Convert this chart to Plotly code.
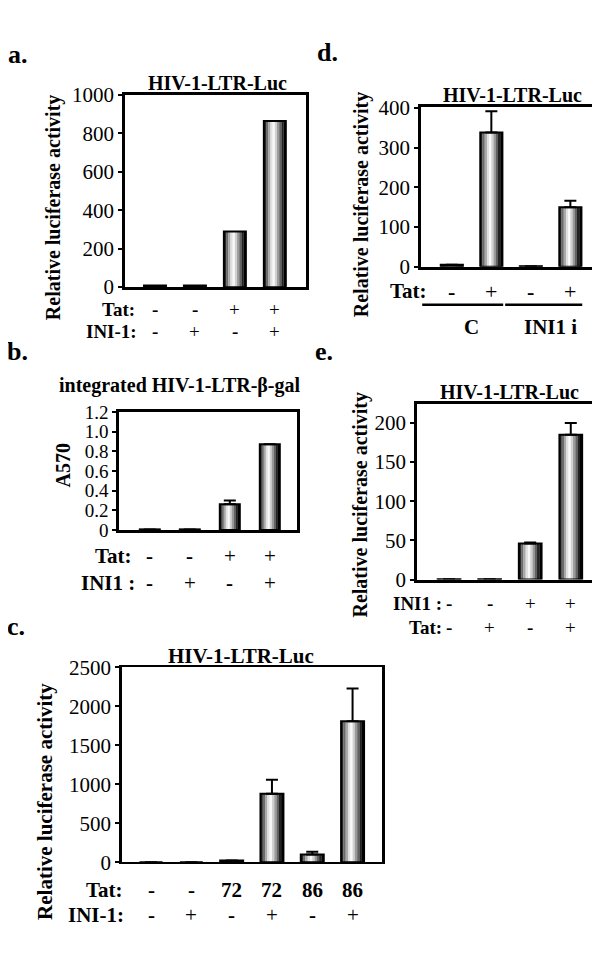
import plotly.graph_objects as go

W, H = 600, 957
FONT = "Liberation Serif"

# ---------------- data ----------------
a_vals = [8, 8, 290, 865]
a_tat = ["-", "-", "+", "+"]
a_ini = ["-", "+", "-", "+"]

b_vals = [0.005, 0.005, 0.26, 0.87]
b_err = [0, 0, 0.04, 0]
b_tat = ["-", "-", "+", "+"]
b_ini = ["-", "+", "-", "+"]
b_ticks = [0, 0.2, 0.4, 0.6, 0.8, 1.0, 1.2]
b_ticktext = ["0", "0.2", "0.4", "0.6", "0.8", "1.0", "1.2"]

c_vals = [0, 0, 25, 880, 100, 1810]
c_err = [0, 0, 0, 180, 35, 418]
c_tat = ["-", "-", "72", "72", "86", "86"]
c_ini = ["-", "+", "-", "+", "-", "+"]

d_vals = [5, 338, 1, 150]
d_err = [0, 54, 0, 16]
d_tat = ["-", "+", "-", "+"]
d_groups = ["C", "INI1 i"]

e_vals = [0.5, 0.5, 46, 185]
e_err = [0, 0, 1.5, 15]
e_ini = ["-", "-", "+", "+"]
e_tat = ["-", "+", "-", "+"]

STRIPES = ["#2a2a2a", "#6a6a6a", "#a8a8a8", "#e0e0e0", "#f8f8f8",
           "#d0d0d0", "#9a9a9a", "#626262", "#222222", "#000000"]


def px(x):
    return x / W


def py(y):
    return 1 - y / H


fig = go.Figure()

panels = [
    ("", a_vals, None, (117, 298), (77, 274), (-0.75, 3.78), (0, 1000), 0.55),
    ("2", b_vals, b_err, (111, 289), (402, 523), (-0.77, 3.68), (0, 1.2), 0.5),
    ("3", c_vals, c_err, (114, 374), (664, 864), (-0.72, 5.73), (0, 2500), 0.57),
    ("4", d_vals, d_err, (413, 592), (89, 253), (-0.78, 3.75), (0, 403), 0.56),
    ("5", e_vals, e_err, (409, 592), (394, 574), (-0.79, 3.72), (0, 224), 0.56),
]

layout_axes = {}
for name, vals, errs, xd, yd, xr, yr, bw in panels:
    n = len(vals)
    xs = list(range(n))
    N = len(STRIPES)
    for k, col in enumerate(STRIPES):
        fig.add_trace(go.Bar(
            x=xs, y=vals, width=bw / N * 1.05, offset=-bw / 2 + k * bw / N,
            marker=dict(color=col, line=dict(width=0)),
            xaxis="x" + name, yaxis="y" + name,
            showlegend=False, hoverinfo="skip"))
    kw = {}
    if errs is not None:
        kw["error_y"] = dict(type="data", array=errs, arrayminus=[0] * n,
                             symmetric=False, color="black", thickness=2, width=6)
    fig.add_trace(go.Bar(
        x=xs, y=vals, width=bw, offset=-bw / 2,
        marker=dict(color="rgba(0,0,0,0)", line=dict(color="black", width=2)),
        xaxis="x" + name, yaxis="y" + name, showlegend=False, hoverinfo="skip", **kw))

    xa = dict(domain=[px(xd[0]), px(xd[1])], range=list(xr), showgrid=False,
              zeroline=False, showticklabels=False, ticks="", showline=True,
              linecolor="black", linewidth=2.5, mirror=True, anchor="y" + name,
              fixedrange=True)
    ya = dict(domain=[py(yd[1]), py(yd[0])], range=list(yr), showgrid=False,
              zeroline=False, ticks="outside", ticklen=4, tickwidth=2,
              tickcolor="black", showline=True, linecolor="black", linewidth=2.5,
              mirror=True, anchor="x" + name,
              tickfont=dict(family=FONT, size=21, color="black"), fixedrange=True)
    layout_axes["xaxis" + name] = xa
    layout_axes["yaxis" + name] = ya

layout_axes["yaxis"].update(tickvals=[0, 200, 400, 600, 800, 1000], tickfont=dict(family=FONT, size=21, color="black"))
layout_axes["yaxis2"].update(tickvals=b_ticks, ticktext=b_ticktext, tickfont=dict(family=FONT, size=19, color="black"))
layout_axes["yaxis3"].update(tickvals=[0, 500, 1000, 1500, 2000, 2500])
layout_axes["yaxis4"].update(tickvals=[0, 100, 200, 300, 400])
layout_axes["yaxis5"].update(tickvals=[0, 50, 100, 150, 200])
layout_axes["xaxis3"].update(linewidth=2)

ann = []


def text(x, y, t, size=22, bold=True, xanchor="center", angle=0):
    ann.append(dict(x=px(x), y=py(y), xref="paper", yref="paper", text=t,
                    showarrow=False, xanchor=xanchor, yanchor="middle", textangle=angle,
                    font=dict(family=FONT, size=size, color="black",
                              weight="bold" if bold else "normal")))


def row(axis, labels, y, size):
    for i, t in enumerate(labels):
        ann.append(dict(x=i, y=py(y), xref=axis, yref="paper", text=t,
                        showarrow=False, xanchor="center", yanchor="middle",
                        font=dict(family=FONT, size=size,
                                  color="black",
                                  weight="normal" if t == "+" else "bold")))


# panel letters
for lab, x, y in [("a.", -2, 35), ("b.", -3, 340), ("c.", -3, 622), ("d.", 307, 33), ("e.", 305, 340)]:
    text(x, y, lab, size=26, xanchor="left")

# titles
text(209, 65, "HIV-1-LTR-Luc", size=20)
text(172, 375, "integrated HIV-1-LTR-β-gal", size=20)
text(233, 652, "HIV-1-LTR-Luc", size=21)
text(504, 77, "HIV-1-LTR-Luc", size=20)
text(501, 382, "HIV-1-LTR-Luc", size=20)

# y labels
ylab = "Relative luciferase activity"
text(45, 193, ylab, size=20, angle=-90)
text(55, 457, "A570", size=20, angle=-90)
text(37, 802, ylab, size=21, angle=-90)
text(353, 190, ylab, size=20, angle=-90)
text(353, 498, ylab, size=20, angle=-90)

# row labels
RA = 19
text(129, 297, "Tat:", size=RA, xanchor="right")
text(131, 320, "INI-1:", size=RA, xanchor="right")
row("x", a_tat, 297, RA)
row("x", a_ini, 320, RA)

RB = 21
text(126, 550, "Tat:", size=RB, xanchor="right")
text(129, 577, "INI1 :", size=RB, xanchor="right")
row("x2", b_tat, 550, RB)
row("x2", b_ini, 577, RB)

RC = 21
text(117, 892, "Tat:", size=RC, xanchor="right")
text(118, 918, "INI-1:", size=RC, xanchor="right")
row("x3", c_tat, 892, RC)
row("x3", c_ini, 918, RC)

text(421, 278, "Tat:", size=21, xanchor="right")
row("x4", d_tat, 278, 22)

RE = 19
text(436, 599, "INI1 :", size=RE, xanchor="right")
text(436, 623, "Tat:", size=RE, xanchor="right")
row("x5", e_ini, 599, RE)
row("x5", e_tat, 623, RE)

shapes = []
for g, name in enumerate(d_groups):
    x0 = 2 * g - 0.75 + (0.1 if g else 0)
    x1 = 2 * g + 1.3
    shapes.append(dict(type="line", xref="x4", yref="paper", x0=x0, x1=x1,
                       y0=py(292), y1=py(292), line=dict(color="black", width=2.5)))
    ann.append(dict(x=2 * g + 0.5, y=py(315), xref="x4", yref="paper", text=name,
                    showarrow=False, xanchor="center", yanchor="middle",
                    font=dict(family=FONT, size=21, color="black", weight="bold")))

fig.update_layout(
    width=W, height=H, margin=dict(l=0, r=0, t=0, b=0),
    paper_bgcolor="white", plot_bgcolor="white",
    barmode="overlay", annotations=ann, shapes=shapes,
    font=dict(family=FONT, color="black"),
    **layout_axes)

fig.write_html("out.html")
